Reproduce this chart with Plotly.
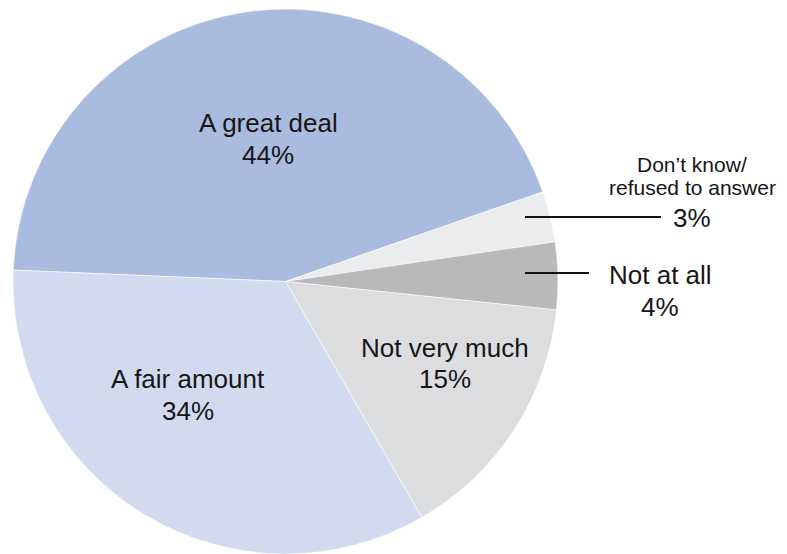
import plotly.graph_objects as go

# Survey answers, in clockwise order starting from the left edge of the pie
categories = ["A great deal", "Don’t know/<br>refused to answer", "Not at all",
              "Not very much", "A fair amount"]
shares = [44, 3, 4, 15, 34]
slice_colors = ["#A9BBDE", "#EBECEE", "#B8B9BB", "#DCDDDF", "#D1DAEF"]

W, H = 787, 554

# Label placement in pixels: centre x, baseline of the name line(s), baseline of the percent line
label_x = [268, 692, 660, 445, 188]
name_baselines = [[132], [172, 195], [284], [357], [388]]
pct_baselines = [164, 227, 316, 388, 420]
name_sizes = [26, 21, 26, 26, 26]
pct_size = 26

# Horizontal leader lines for the two thin slices: (slice index, x0, x1, y)
leaders = [(1, 525, 661, 217), (2, 525, 589, 273)]

FONT = "Liberation Sans"
TEXT = "#161616"

fig = go.Figure(go.Pie(
    labels=categories,
    values=shares,
    sort=False,
    direction="clockwise",
    rotation=272.4,
    marker=dict(colors=slice_colors, line=dict(color="#FFFFFF", width=0.6)),
    textinfo="none",
    hoverinfo="label+percent",
    showlegend=False,
    domain=dict(x=[13 / W, 558 / W], y=[0, 1 - 9 / H]),
))


def px_x(x):
    return x / W


def px_y(y):
    return 1 - y / H


annotations = []
for i, name in enumerate(categories):
    size = name_sizes[i]
    for line, base in zip(name.split("<br>"), name_baselines[i]):
        annotations.append(dict(
            x=px_x(label_x[i]), y=px_y(base - 0.348 * size),
            xref="paper", yref="paper", xanchor="center", yanchor="middle",
            text=line, showarrow=False,
            font=dict(family=FONT, size=size, color=TEXT),
        ))
    annotations.append(dict(
        x=px_x(label_x[i]), y=px_y(pct_baselines[i] - 0.348 * pct_size),
        xref="paper", yref="paper", xanchor="center", yanchor="middle",
        text=f"{shares[i]}%", showarrow=False,
        font=dict(family=FONT, size=pct_size, color=TEXT),
    ))

shapes = [
    dict(type="line", xref="paper", yref="paper",
         x0=px_x(x0), x1=px_x(x1), y0=px_y(y), y1=px_y(y),
         line=dict(color="#111111", width=2))
    for _, x0, x1, y in leaders
]

fig.update_layout(
    width=W, height=H,
    margin=dict(l=0, r=0, t=0, b=0),
    paper_bgcolor="#FFFFFF",
    plot_bgcolor="#FFFFFF",
    annotations=annotations,
    shapes=shapes,
    font=dict(family=FONT),
)

fig.write_html("out.html")
